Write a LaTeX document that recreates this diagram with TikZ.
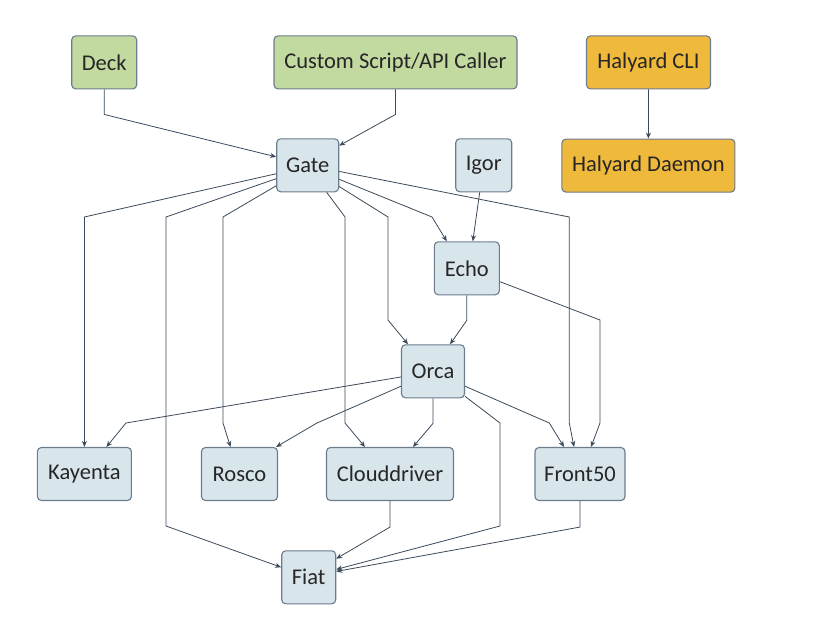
\documentclass[tikz,border=0pt]{standalone}
\usepackage{fontspec}
\setmainfont{Carlito}
\usetikzlibrary{arrows.meta}
\definecolor{svcfill}{HTML}{D8E6EC}
\definecolor{clientfill}{HTML}{C2D9A0}
\definecolor{halfill}{HTML}{EFB93B}
\definecolor{boxline}{HTML}{6B7C8C}
\definecolor{flowline}{HTML}{3B4A5A}
\tikzset{
	box/.style={draw=boxline,line width=1.1pt,rounded corners=4pt,minimum height=53pt,inner sep=0pt,font=\fontsize{22.5}{26}\selectfont,text=black!85},
	svc/.style={box,fill=svcfill},
	client/.style={box,fill=clientfill},
	hal/.style={box,fill=halfill},
	flow/.style={draw=flowline,line width=0.8pt,-{Stealth[length=6pt,width=5pt]}}
}
\begin{document}
\begin{tikzpicture}[x=1pt,y=-1pt]
	\useasboundingbox (0,0) rectangle (825,624);
	\node[client,minimum width=65pt] (deck) at (104.2,62.4) {Deck};
	\node[client,minimum width=243pt] (custom) at (395.5,62.4) {Custom Script/API Caller};
	\node[hal,minimum width=124pt] (cli) at (648.5,62.4) {Halyard CLI};
	\node[svc,minimum width=62pt] (gate) at (307.7,165.3) {Gate};
	\node[svc,minimum width=56pt] (igor) at (483.7,165.3) {Igor};
	\node[hal,minimum width=173pt] (daemon) at (648.4,165.6) {Halyard Daemon};
	\node[svc,minimum width=65pt] (echo) at (466.8,268.3) {Echo};
	\node[svc,minimum width=63pt] (orca) at (433,371.3) {Orca};
	\node[svc,minimum width=94pt] (kayenta) at (84.4,474) {Kayenta};
	\node[svc,minimum width=76pt] (rosco) at (239.5,474) {Rosco};
	\node[svc,minimum width=127pt] (cloud) at (390,474) {Clouddriver};
	\node[svc,minimum width=90pt] (front) at (580,474) {Front50};
	\node[svc,minimum width=54pt] (fiat) at (308.7,577.3) {Fiat};

	\draw[flow] (deck.south) -- ++(0,25) -- (gate.165);
	\draw[flow] (custom.south) -- ++(0,25) -- (gate.32);
	\draw[flow] (cli.south) -- (daemon.north);
	\draw[flow] ([xshift=-4pt]igor.south) -- ([xshift=6pt]echo.north);
	\draw[flow] (gate.195) -- (84.4,217) -- (kayenta.north);
	\draw[flow] (gate.203) -- (166,217) -- (166,526) -- (fiat.160);
	\draw[flow] (gate.213) -- (223,217) -- (223,423) -- ([xshift=-9pt]rosco.north);
	\draw[flow] ([xshift=19pt]gate.south) -- (345,217) -- (345,423) -- ([xshift=-25pt]cloud.north);
	\draw[flow] (gate.326) -- (388,217) -- (388,320) -- ([xshift=-25pt]orca.north);
	\draw[flow] (gate.336) -- (432,217) -- ([xshift=-20pt]echo.north);
	\draw[flow] (gate.349) -- (569.3,217) -- (569.3,423) -- ([xshift=-6pt]front.north);
	\draw[flow] (echo.south) -- ++(0,25) -- ([xshift=-15pt]orca.north east);
	\draw[flow] (echo.338) -- (600,320) -- (600,423) -- ([xshift=11pt]front.north);
	\draw[flow] (orca.190) -- (126,423) -- ([xshift=22pt]kayenta.north);
	\draw[flow] (orca.205) -- (317,423) -- ([xshift=-2pt]rosco.north east);
	\draw[flow] (orca.south) -- ++(0,25) -- ([xshift=23pt]cloud.north);
	\draw[flow] (orca.335) -- (549.3,423) -- ([xshift=-16pt]front.north);
	\draw[flow] (orca.322) -- (500,423) -- (500,526) -- (fiat.16);
	\draw[flow] (cloud.south) -- ++(0,26) -- (fiat.34);
	\draw[flow] (front.south) -- ++(0,26) -- (fiat.12);
\end{tikzpicture}
\end{document}
